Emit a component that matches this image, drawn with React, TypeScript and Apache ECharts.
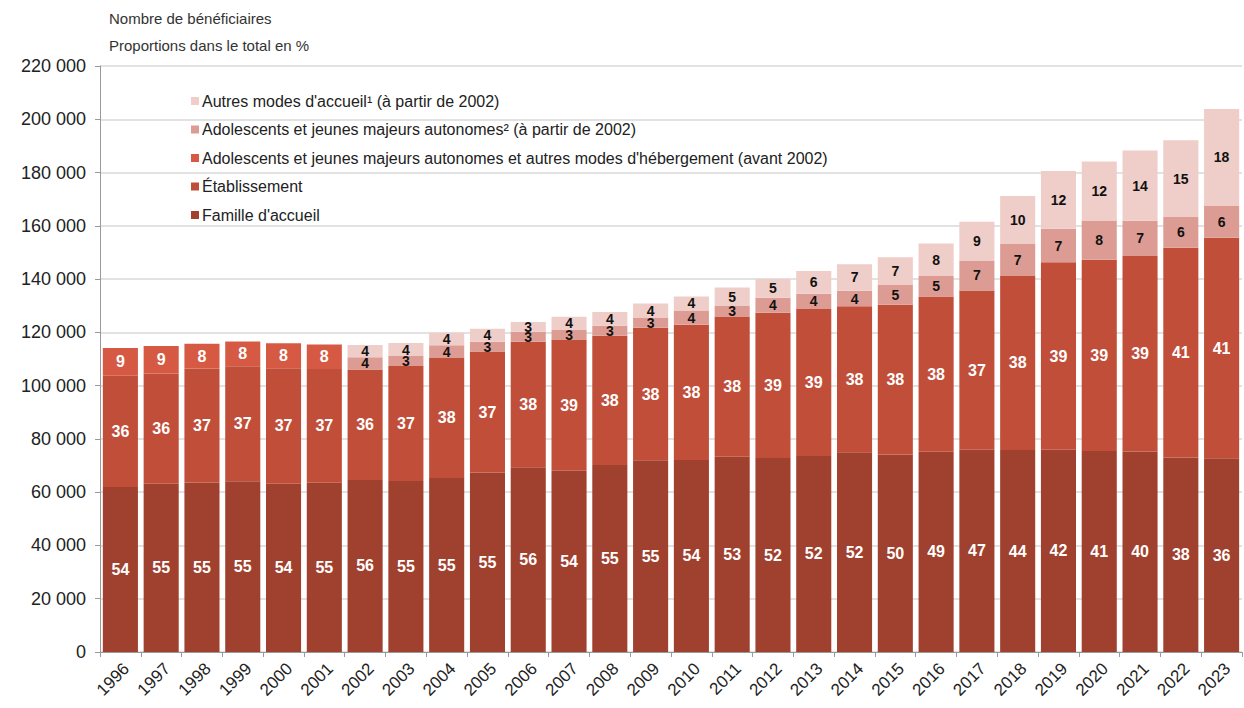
import React, { useEffect, useRef } from "react";
import * as echarts from "echarts";

const years = ["1996","1997","1998","1999","2000","2001","2002","2003","2004","2005","2006","2007","2008","2009","2010","2011","2012","2013","2014","2015","2016","2017","2018","2019","2020","2021","2022","2023"];

const famille = [61900,63200,63600,64100,63200,63500,64600,64200,65300,67400,69400,68000,70200,72000,72100,73300,72800,73600,75000,74100,75200,75900,75800,75900,75500,75300,73000,72700];
const etablissement = [41800,41400,42800,43200,43300,42700,41500,43200,45100,45400,47100,49100,48500,49700,50800,52500,54600,55200,54800,56300,58300,59800,65400,70400,71800,73400,78800,82800];
const adoAvant = [10400,10300,9300,9300,9400,9200,null,null,null,null,null,null,null,null,null,null,null,null,null,null,null,null,null,null,null,null,null,null];
const adoAutonomes = [null,null,null,null,null,null,4600,3700,4750,3700,3700,3800,3800,3900,5300,4100,5600,5700,5800,7400,7700,11300,12000,12600,14700,13200,11500,12100];
const autres = [null,null,null,null,null,null,4600,4900,4750,4900,3700,5000,5100,5200,5300,6900,7000,8500,10000,10400,12200,14500,18000,21700,22100,26400,28800,36300];

const pctFamille = [54,55,55,55,54,55,56,55,55,55,56,54,55,55,54,53,52,52,52,50,49,47,44,42,41,40,38,36];
const pctEtab = [36,36,37,37,37,37,36,37,38,37,38,39,38,38,38,38,39,39,38,38,38,37,38,39,39,39,41,41];
const pctAdoAvant = [9,9,8,8,8,8,null,null,null,null,null,null,null,null,null,null,null,null,null,null,null,null,null,null,null,null,null,null];
const pctAdo = [null,null,null,null,null,null,4,3,4,3,3,3,3,3,4,3,4,4,4,5,5,7,7,7,8,7,6,6];
const pctAutres = [null,null,null,null,null,null,4,4,4,4,3,4,4,4,4,5,5,6,7,7,8,9,10,12,12,14,15,18];

const names = {
  autres: "Autres modes d'accueil\u00b9 (à partir de 2002)",
  ado: "Adolescents et jeunes majeurs autonomes\u00b2 (à partir de 2002)",
  adoAvant: "Adolescents et jeunes majeurs autonomes et autres modes d'hébergement (avant 2002)",
  etab: "Établissement",
  famille: "Famille d'accueil",
};

const FONT = "'Liberation Sans', Arial, sans-serif";

export default function App() {
  const ref = useRef<HTMLDivElement>(null);
  useEffect(() => {
    document.body.style.margin = "0";
    const chart = echarts.init(ref.current!, null, { renderer: "svg" });
    const mk = (name: string, data: any[], pct: any[], color: string, labelColor: string, fs: number) => ({
      name,
      type: "bar",
      stack: "total",
      data,
      barCategoryGap: "14%",
      itemStyle: { color },
      label: {
        show: true,
        position: "inside",
        color: labelColor,
        fontWeight: "bold",
        fontSize: fs,
        fontFamily: FONT,
        formatter: (p: any) => (pct[p.dataIndex] == null ? "" : String(pct[p.dataIndex])),
      },
    });
    chart.setOption({
      animation: false,
      textStyle: { fontFamily: FONT },
      title: {
        text: "Nombre de bénéficiaires\nProportions dans le total en %",
        left: 104,
        top: 0,
        textStyle: { fontSize: 15, fontWeight: "normal", color: "#333", lineHeight: 27, fontFamily: FONT },
      },
      legend: {
        orient: "vertical",
        left: 186,
        top: 88,
        itemWidth: 8,
        itemHeight: 8,
        itemGap: 12.5,
        icon: "rect",
        data: [names.autres, names.ado, names.adoAvant, names.etab, names.famille],
        textStyle: { fontSize: 16, color: "#222", fontFamily: FONT, padding: [0, 0, 0, -2] },
      },
      grid: { left: 100, right: 2, top: 66, bottom: 56, containLabel: false },
      xAxis: {
        type: "category",
        data: years,
        axisLine: { lineStyle: { color: "#999" } },
        axisTick: { show: true, alignWithLabel: false, lineStyle: { color: "#999" }, length: 5 },
        axisLabel: { rotate: 45, interval: 0, fontSize: 17, color: "#222", margin: 8, verticalAlign: "top", fontFamily: FONT },
      },
      yAxis: {
        type: "value",
        min: 0,
        max: 220000,
        interval: 20000,
        axisLine: { show: true, lineStyle: { color: "#999" } },
        axisTick: { show: true, length: 5, lineStyle: { color: "#999" } },
        splitLine: { lineStyle: { color: "#d9d9d9", width: 1.5 } },
        axisLabel: {
          fontSize: 18,
          color: "#222",
          margin: 14,
          fontFamily: FONT,
          formatter: (v: number) => String(v).replace(/\B(?=(\d{3})+(?!\d))/g, " "),
        },
      },
      series: [
        mk(names.famille, famille, pctFamille, "#a0402e", "#fff", 16),
        mk(names.etab, etablissement, pctEtab, "#c14e39", "#fff", 16),
        mk(names.adoAvant, adoAvant, pctAdoAvant, "#d65a43", "#fff", 16),
        mk(names.ado, adoAutonomes, pctAdo, "#dc9c94", "#111", 14),
        mk(names.autres, autres, pctAutres, "#efcdc8", "#111", 14),
      ],
    });
    return () => chart.dispose();
  }, []);
  return <div ref={ref} style={{ width: 1244, height: 708 }} />;
}
